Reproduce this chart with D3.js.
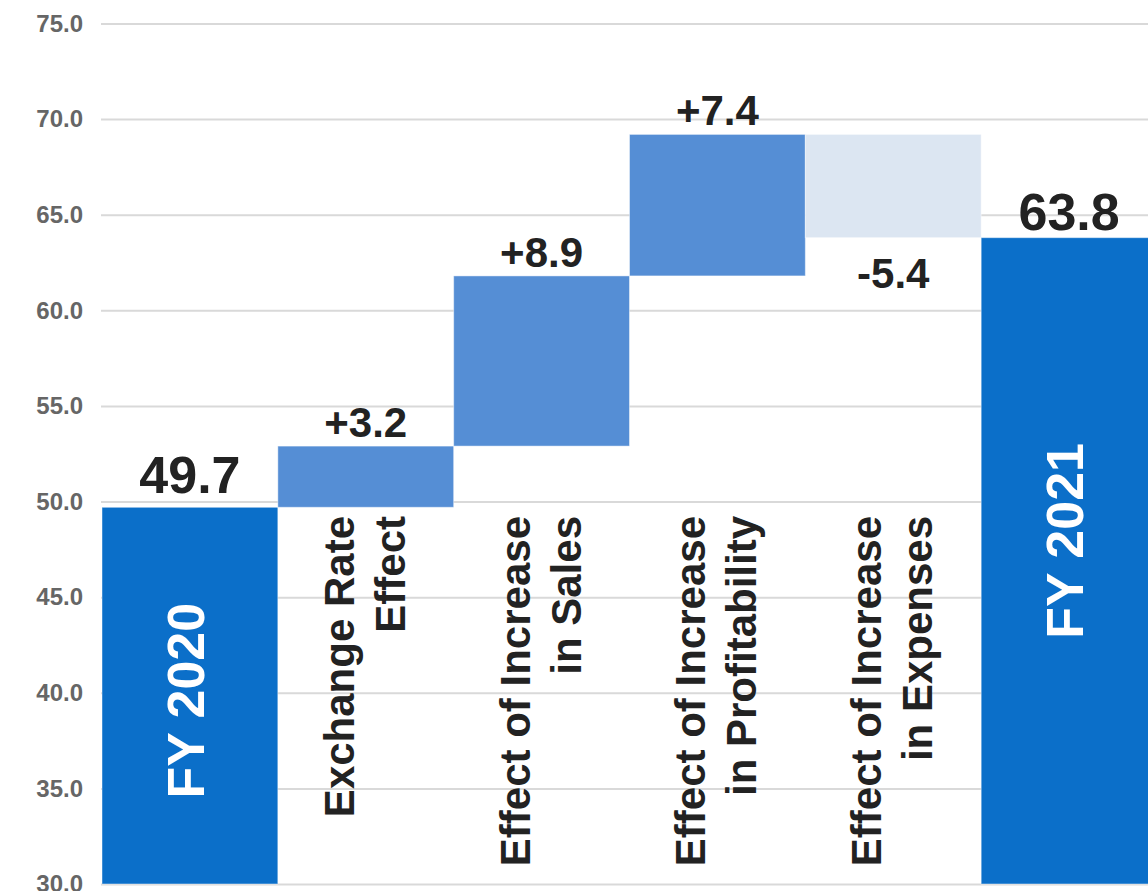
<!DOCTYPE html>
<html>
<head>
<meta charset="utf-8">
<script src="https://cdn.jsdelivr.net/npm/d3@7"></script>
<style>
  html, body { margin: 0; padding: 0; background: #fff; overflow: hidden; }
  svg { display: block; font-family: "Liberation Sans", Arial, Helvetica, sans-serif; }
</style>
</head>
<body>
<svg id="chart" width="1148" height="891"></svg>
<script>
const categories = ["FY 2020", "Exchange Rate Effect", "Effect of Increase in Sales",
  "Effect of Increase in Profitability", "Effect of Increase in Expenses", "FY 2021"];
const categoryLines = [["FY 2020"], ["Exchange Rate", "Effect"], ["Effect of Increase", "in Sales"],
  ["Effect of Increase", "in Profitability"], ["Effect of Increase", "in Expenses"], ["FY 2021"]];
const values = [49.7, 3.2, 8.9, 7.4, -5.4, 63.8];
const kinds = ["total", "delta", "delta", "delta", "delta", "total"];
const valueLabels = ["49.7", "+3.2", "+8.9", "+7.4", "-5.4", "63.8"];
const yTicks = [30, 35, 40, 45, 50, 55, 60, 65, 70, 75];
const yDomain = [30, 75];

const colors = { total: "#0B6FC9", up: "#558ED5", down: "#DCE6F2" };

const svg = d3.select("#chart");
const x = d3.scaleBand().domain(categories).range([102, 1157]).padding(0);
const y = d3.scaleLinear().domain(yDomain).range([884, 23.5]);

// compute waterfall segments
let running = 0;
const segs = categories.map((c, i) => {
  let lo, hi;
  if (kinds[i] === "total") { lo = yDomain[0]; hi = values[i]; running = values[i]; }
  else { const start = running; running = start + values[i]; lo = Math.min(start, running); hi = Math.max(start, running); }
  return { c, i, lo, hi, v: values[i], kind: kinds[i] };
});

// gridlines + tick labels via axis
const axis = d3.axisLeft(y).tickValues(yTicks).tickFormat(d3.format(".1f"))
  .tickSizeInner(-(1148 - 101)).tickSizeOuter(0).tickPadding(18);
const gAxis = svg.append("g").attr("transform", "translate(101,0)").call(axis);
gAxis.select(".domain").remove();
gAxis.selectAll(".tick line").attr("stroke", "#d9d9d9").attr("stroke-width", 2);
gAxis.selectAll(".tick text").attr("fill", "#666").attr("font-size", 24).attr("font-weight", "bold")
  .attr("font-family", "'Liberation Sans', Arial, sans-serif");

// bars
svg.append("g").selectAll("rect").data(segs).join("rect")
  .attr("x", d => x(d.c))
  .attr("width", x.bandwidth())
  .attr("y", d => y(d.hi))
  .attr("height", d => y(d.lo) - y(d.hi))
  .attr("fill", d => d.kind === "total" ? colors.total : (d.v >= 0 ? colors.up : colors.down))
  .attr("stroke", "rgba(255,255,255,0.45)")
  .attr("stroke-width", 1);

// value labels
const totalDy = [-14, -8];
svg.append("g").selectAll("text").data(segs).join("text")
  .attr("x", d => x(d.c) + x.bandwidth() / 2)
  .attr("y", d => {
    if (d.kind === "total") return y(d.hi) + (d.i === 0 ? totalDy[0] : totalDy[1]);
    if (d.v >= 0) return y(d.hi) - 9;
    return y(d.lo) + 50;
  })
  .attr("text-anchor", "middle")
  .attr("font-weight", "bold")
  .attr("font-size", d => d.kind === "total" ? 52 : 42)
  .attr("fill", "#222")
  .text((d, i) => valueLabels[i]);

// category labels (rotated)
const catG = svg.append("g");
segs.forEach(d => {
  const cx = x(d.c) + x.bandwidth() / 2;
  const lines = categoryLines[d.i];
  if (d.kind === "total") {
    const mid = (y(d.hi) + y(d.lo)) / 2 + (d.i === 0 ? 5 : -20);
    catG.append("text")
      .attr("transform", `translate(${cx + 14},${mid}) rotate(-90)`)
      .attr("text-anchor", "middle")
      .attr("font-weight", "bold")
      .attr("font-size", 52)
      .attr("fill", "#fff")
      .text(lines[0]);
  } else {
    const t = catG.append("text")
      .attr("transform", `translate(${cx},516) rotate(-90)`)
      .attr("text-anchor", "end")
      .attr("font-weight", "bold")
      .attr("font-size", 42)
      .attr("fill", "#222");
    lines.forEach((ln, k) => {
      t.append("tspan").attr("x", 0).attr("y", k === 0 ? -12 : 39).text(ln);
    });
  }
});
</script>
</body>
</html>
